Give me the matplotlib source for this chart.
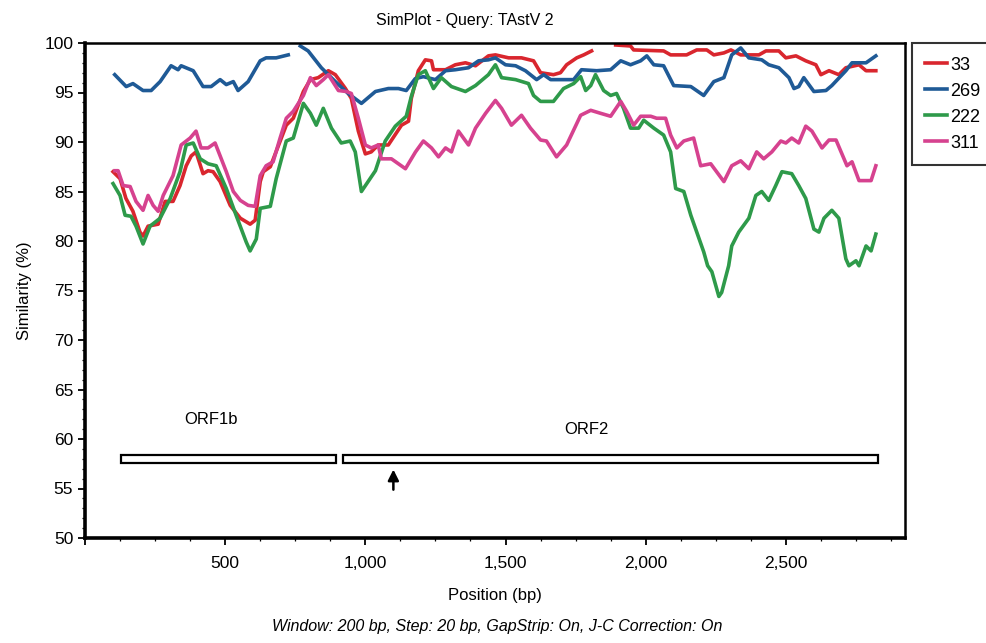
import numpy as np
import matplotlib
matplotlib.use("Agg")
import matplotlib.pyplot as plt
from matplotlib.ticker import MultipleLocator, FuncFormatter

plt.rcParams['font.family'] = ['Liberation Sans', 'DejaVu Sans']

NAN = float('nan')

# (position bp, similarity %)
s33 = [(100,87.0),(125,86.3),(146,84.3),(171,83.0),(196,80.9),(207,80.5),(225,81.5),(261,81.7),(286,84.0),(314,84.0),
       (339,85.6),(361,87.6),(379,88.6),(396,89.0),(421,86.8),(439,87.1),(457,87.0),(482,86.0),(518,83.6),(554,82.3),
       (589,81.7),(607,82.1),(625,86.0),(636,87.0),(661,87.5),(718,91.7),(743,92.4),(779,95.1),(804,96.3),(832,96.5),
       (868,97.2),(893,96.8),(929,95.4),(950,94.4),(975,91.1),(1000,88.8),(1021,89.0),(1046,89.7),(1082,89.7),(1129,91.7),
       (1154,92.1),(1164,94.4),(1189,97.2),(1214,98.3),(1236,98.2),(1243,97.3),(1286,97.3),(1321,97.8),(1357,98.0),(1393,97.7),
       (1439,98.7),(1464,98.8),(1511,98.5),(1557,98.5),(1600,98.2),(1625,97.0),(1671,96.8),(1696,97.0),(1718,97.8),(1754,98.5),
       (1779,98.8),(1807,99.2),(1850,NAN),(1893,99.8),(1946,99.7),(1957,99.3),(2064,99.2),(2089,98.8),(2146,98.8),(2182,99.3),
       (2218,99.3),(2243,98.8),(2279,99.0),(2304,99.3),(2339,98.8),(2386,98.8),(2404,98.8),(2429,99.2),(2475,99.2),(2500,98.5),
       (2536,98.7),(2571,98.2),(2607,97.8),(2625,96.8),(2654,97.2),(2689,96.8),(2714,97.5),(2761,97.8),(2786,97.2),(2821,97.2)]

s269 = [(106,96.8),(147,95.6),(171,95.9),(207,95.2),(236,95.2),(268,96.1),(307,97.7),(332,97.3),(343,97.7),(386,97.2),
        (421,95.6),(450,95.6),(482,96.3),(504,95.8),(529,96.1),(546,95.2),(582,96.1),(625,98.2),(646,98.5),(682,98.5),
        (725,98.8),(746,NAN),(768,99.7),(796,99.2),(843,97.5),(893,96.1),(939,94.9),(986,93.9),(1036,95.1),(1082,95.4),
        (1118,95.4),(1146,95.2),(1178,96.4),(1207,96.6),(1250,96.3),(1286,97.2),(1321,97.3),(1368,97.5),(1404,98.2),(1439,98.3),
        (1464,98.5),(1500,97.8),(1536,97.7),(1571,97.2),(1611,96.3),(1636,96.8),(1661,96.3),(1743,96.3),(1771,97.3),(1825,97.2),
        (1875,97.3),(1911,98.2),(1946,97.8),(1982,98.2),(2004,98.7),(2029,97.8),(2064,97.7),(2100,95.7),(2161,95.6),(2207,94.7),
        (2243,96.1),(2279,96.5),(2307,98.8),(2339,99.5),(2368,98.5),(2414,98.3),(2439,97.8),(2475,97.5),(2511,96.5),(2529,95.4),
        (2546,95.6),(2564,96.5),(2600,95.1),(2643,95.2),(2664,95.7),(2714,97.2),(2736,98.0),(2786,98.0),(2821,98.7)]

s222 = [(100,85.8),(125,84.6),(143,82.6),(164,82.5),(182,81.5),(207,79.7),(232,81.5),(268,82.3),(304,84.3),(339,87.0),
        (361,89.7),(386,89.9),(411,88.3),(439,87.8),(468,87.6),(504,85.3),(539,82.6),(575,79.9),(589,79.0),(611,80.2),
        (625,83.3),(661,83.5),(682,86.3),(718,90.1),(743,90.4),(779,93.9),(804,92.9),(825,91.7),(850,93.4),(879,91.4),
        (914,89.9),(946,90.1),(964,89.0),(986,85.0),(1036,87.1),(1071,90.1),(1107,91.6),(1146,92.6),(1164,94.6),(1189,96.8),
        (1214,97.2),(1243,95.4),(1271,96.5),(1307,95.6),(1357,95.1),(1393,95.7),(1439,96.8),(1464,97.8),(1486,96.5),(1536,96.3),
        (1582,95.9),(1600,94.7),(1625,94.1),(1671,94.1),(1707,95.4),(1743,95.9),(1768,96.6),(1786,95.2),(1804,95.7),(1821,96.8),
        (1850,95.2),(1875,94.7),(1896,94.9),(1921,93.4),(1946,91.4),(1975,91.4),(1993,92.2),(2029,91.4),(2064,90.7),(2089,89.0),
        (2107,85.3),(2136,85.0),(2161,82.6),(2207,78.9),(2221,77.5),(2236,76.9),(2261,74.4),(2271,74.8),(2296,77.5),(2307,79.5),
        (2332,80.9),(2368,82.3),(2393,84.6),(2414,85.0),(2439,84.1),(2464,85.6),(2486,87.0),(2521,86.8),(2546,85.6),(2571,84.3),
        (2600,81.2),(2618,80.9),(2636,82.3),(2664,83.1),(2689,82.3),(2714,78.2),(2725,77.5),(2750,78.0),(2761,77.5),(2786,79.5),
        (2804,79.0),(2821,80.7)]

s311 = [(107,87.1),(118,87.1),(136,85.6),(161,85.5),(182,84.0),(207,83.1),(225,84.6),(243,83.6),(261,83.0),(279,84.6),
        (314,86.6),(343,89.7),(375,90.4),(396,91.1),(414,89.4),(439,89.4),(464,89.9),(482,88.6),(504,87.0),(529,85.0),
        (554,84.1),(582,83.6),(607,83.5),(625,86.6),(646,87.6),(671,88.0),(696,90.4),(718,92.4),(743,93.1),(779,94.7),
        (804,96.5),(825,95.7),(850,96.3),(868,96.8),(904,95.2),(932,95.1),(950,94.9),(975,92.4),(1000,89.7),(1021,89.4),
        (1046,89.7),(1057,88.3),(1093,88.3),(1118,87.8),(1143,87.3),(1179,89.0),(1207,90.1),(1236,89.4),(1261,88.5),(1286,89.4),
        (1307,89.0),(1332,91.1),(1368,89.7),(1393,91.4),(1429,92.9),(1464,94.2),(1486,93.4),(1521,91.7),(1557,92.7),(1589,91.4),
        (1625,90.2),(1646,90.1),(1682,88.5),(1718,89.7),(1768,92.7),(1804,93.2),(1839,92.9),(1875,92.6),(1911,94.1),(1932,93.1),
        (1957,91.7),(1982,92.6),(2018,92.6),(2039,92.4),(2071,92.4),(2089,90.7),(2111,89.4),(2136,90.1),(2171,90.4),(2196,87.6),
        (2232,87.8),(2279,86.0),(2307,87.6),(2339,88.1),(2368,87.3),(2396,89.0),(2421,88.3),(2450,89.0),(2482,90.1),(2500,89.9),
        (2521,90.4),(2546,89.9),(2571,91.6),(2593,91.1),(2629,89.4),(2654,90.2),(2679,90.2),(2718,87.6),(2736,88.0),(2761,86.1),
        (2804,86.1),(2821,87.6)]

series_names = ['33', '269', '222', '311']
series_data = [s33, s269, s222, s311]
series_colors = ['#d9262e', '#1f5a96', '#2e9a4a', '#d6428f']

orf_labels = ['ORF1b', 'ORF2']
orf_starts = [130, 921]
orf_ends = [896, 2829]
orf_label_x = [450, 1790]
orf_label_y = [62.0, 61.0]
orf_y = 58.0
arrow_x = 1100

fig = plt.figure(figsize=(9.87, 6.43), dpi=100)
ax = fig.add_axes([85/987, 1-538/643, (905-85)/987, (538-43)/643])

for name, data, col in zip(series_names, series_data, series_colors):
    xs = [p[0] for p in data]
    ys = [p[1] for p in data]
    ax.plot(xs, ys, color=col, lw=2.6, label=name, solid_joinstyle='round')

for s, e in zip(orf_starts, orf_ends):
    ax.barh(orf_y, e - s, left=s, height=0.8, facecolor='white', edgecolor='black', lw=1.6, zorder=3)
for lab, lx, ly in zip(orf_labels, orf_label_x, orf_label_y):
    ax.text(lx, ly, lab, ha='center', va='center', fontsize=12)

ax.annotate('', xy=(arrow_x, 57.2), xytext=(arrow_x, 54.6),
            arrowprops=dict(arrowstyle='-|>', color='black', lw=1.8, mutation_scale=16))

ax.set_xlim(0, 2925)
ax.set_ylim(50, 100)
ax.xaxis.set_major_locator(MultipleLocator(500))
ax.xaxis.set_minor_locator(MultipleLocator(125))
ax.yaxis.set_major_locator(MultipleLocator(5))
ax.yaxis.set_minor_locator(MultipleLocator(1))
ax.xaxis.set_major_formatter(FuncFormatter(lambda v, p: f"{int(v):,}" if v > 0 else ""))
ax.tick_params(axis='both', which='major', labelsize=12.5, length=5, width=1.3, direction='out')
ax.tick_params(axis='both', which='minor', length=2.5, width=0.9, direction='out')
ax.tick_params(axis='x', pad=8)

for sp in ['left', 'bottom']:
    ax.spines[sp].set_linewidth(2.6)
for sp in ['top', 'right']:
    ax.spines[sp].set_linewidth(1.8)

ax.set_xlabel('Position (bp)', fontsize=12, labelpad=12)
ax.set_ylabel('Similarity (%)', fontsize=12, labelpad=9)

fig.text(465/987, 1-20/643, 'SimPlot - Query: TAstV 2', ha='center', va='center', fontsize=11.5)
fig.text(497/987, 1-627/643, 'Window: 200 bp, Step: 20 bp, GapStrip: On, J-C Correction: On',
         ha='center', va='center', fontsize=11.5, style='italic')

leg = ax.legend(loc='upper left', bbox_to_anchor=(1.008, 1.0), fontsize=13, frameon=True, fancybox=False,
                handlelength=1.2, handletextpad=0.2, borderpad=0.75, labelspacing=0.5, borderaxespad=0.0)
leg.get_frame().set_edgecolor('black')
leg.get_frame().set_linewidth(1.5)

fig.savefig('out.png', dpi=100)
